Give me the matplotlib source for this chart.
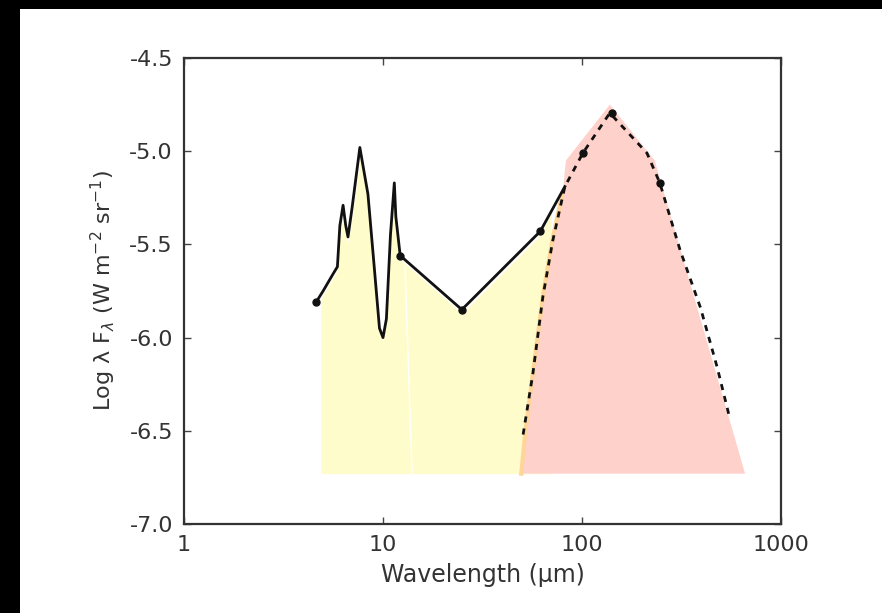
import numpy as np
import matplotlib
matplotlib.use("Agg")
from matplotlib import pyplot as plt
from matplotlib.patches import Rectangle

plt.rcParams['axes.unicode_minus'] = False
plt.rcParams['font.family'] = ['DejaVu Sans']

# Observed SED (solid line), wavelength in microns, log lambda*F_lambda
sed_wl = [4.61, 5.0, 5.6, 5.9, 6.07, 6.3, 6.5, 6.67, 7.0, 7.65, 8.0, 8.4, 9.0, 9.6, 10.0,
          10.4, 10.9, 11.4, 11.6, 12.2, 24.9, 61.7, 82.0]
sed_val = [-5.81, -5.75, -5.66, -5.62, -5.40, -5.29, -5.40, -5.46, -5.30, -4.98, -5.10, -5.23,
           -5.60, -5.95, -6.00, -5.90, -5.45, -5.17, -5.35, -5.56, -5.85, -5.43, -5.19]

# Photometric points (dots)
obs_wl = [4.61, 12.2, 24.9, 61.7, 101, 141, 246]
obs_val = [-5.81, -5.56, -5.85, -5.43, -5.01, -4.795, -5.17]

# Dust emission model (dashed)
bb_wl = [50.6, 56.7, 63.6, 71.3, 82.0, 101, 138, 212, 246, 311, 394, 478, 555]
bb_val = [-6.52, -6.19, -5.78, -5.48, -5.19, -5.01, -4.795, -5.01, -5.17, -5.53, -5.84, -6.16, -6.44]

# Shaded regions
base_val = -6.73
yellow_wl = [4.88, 5.0, 5.6, 5.9, 6.07, 6.3, 6.5, 6.67, 7.0, 7.65, 8.0, 8.4, 9.0, 9.6, 10.0,
             10.4, 10.9, 11.4, 11.6, 12.2, 24.9, 61.7, 70.0]
yellow_val = [-5.80, -5.77, -5.68, -5.64, -5.45, -5.35, -5.43, -5.49, -5.35, -5.05, -5.13, -5.26,
              -5.62, -5.97, -6.02, -5.92, -5.48, -5.22, -5.38, -5.58, -5.87, -5.45, -5.33]
pink_wl = [49.5, 52.0, 57.0, 64.0, 71.5, 80.0, 83.0, 138, 232, 660]
pink_val = [-6.73, -6.50, -6.17, -5.76, -5.46, -5.22, -5.05, -4.75, -5.05, -6.73]
seam_wl = [12.9, 14.0]
seam_val = [-5.62, -6.73]

fig = plt.figure(figsize=(8.82, 6.13), dpi=100)
fig.patch.set_facecolor('black')
bg = Rectangle((20/882, 0), 1 - 20/882, 1 - 9/613, transform=fig.transFigure,
               facecolor='white', edgecolor='none', zorder=-10)
fig.add_artist(bg)

ax = fig.add_axes([184/882, 1 - 524/613, 597/882, 466/613])
ax.set_facecolor('white')
ax.set_xscale('log')
ax.set_xlim(1, 1000)
ax.set_ylim(-7.0, -4.5)

ax.fill_between(yellow_wl, yellow_val, base_val, color='#fffccc', lw=0, zorder=1)
ax.plot(seam_wl, seam_val, color='white', lw=1.0, zorder=1.5)
ax.fill(pink_wl, pink_val, color='#ffd1cb', lw=0, zorder=2)
ax.plot(pink_wl[:6], pink_val[:6], color='#ffd59a', lw=3, zorder=2.5)

ax.plot(sed_wl, sed_val, color='#111111', lw=2.0, zorder=3)
ax.plot(bb_wl, bb_val, color='#111111', lw=2.0, linestyle=(0, (2.2, 2.2)), zorder=3)
ax.plot(obs_wl, obs_val, 'o', color='#111111', ms=5, zorder=4)

ax.xaxis.set_major_locator(matplotlib.ticker.FixedLocator([1, 10, 100, 1000]))
ax.xaxis.set_minor_locator(matplotlib.ticker.NullLocator())
ax.set_xticklabels(['1', '10', '100', '1000'])
ax.set_yticks([-7.0, -6.5, -6.0, -5.5, -5.0, -4.5])
ax.set_yticklabels(['-7.0', '-6.5', '-6.0', '-5.5', '-5.0', '-4.5'])
ax.tick_params(direction='in', length=5, width=1, top=True, right=True,
               labelsize=16, labelcolor='#333333', color='#444444', pad=8)
for s in ax.spines.values():
    s.set_linewidth(1.6)
    s.set_color('#333333')

ax.set_xlabel('Wavelength (\u00b5m)', fontsize=17, color='#333333', labelpad=6)
ax.set_ylabel('Log \u03bb F$_\u03bb$ (W m$^{-2}$ sr$^{-1}$)', fontsize=16, color='#333333', labelpad=8)

fig.savefig('out.png', dpi=100, facecolor=fig.get_facecolor())
